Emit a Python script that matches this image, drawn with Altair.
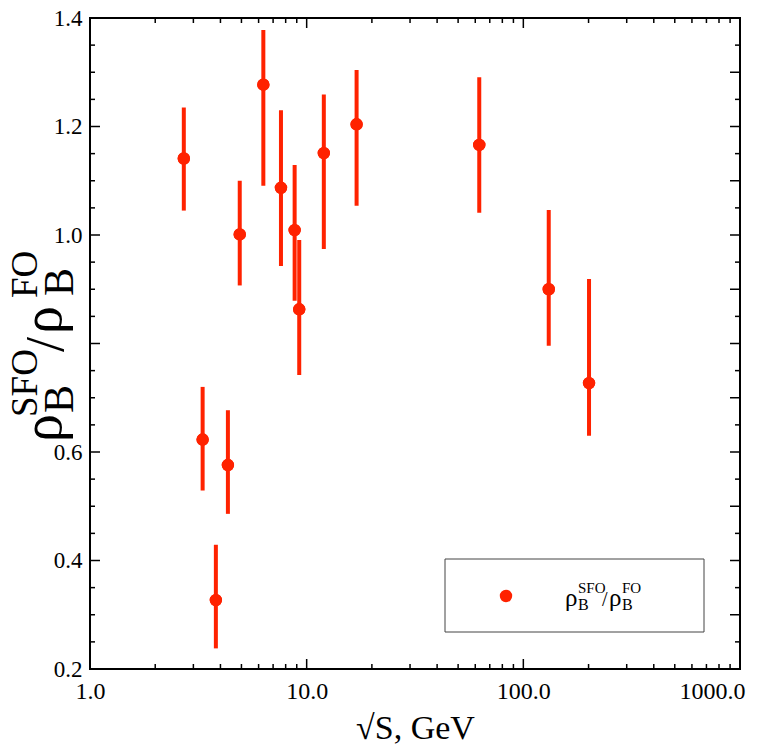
import altair as alt
import pandas as pd

# ---- data ----
sqrt_s = [2.71, 3.31, 3.81, 4.33, 4.91, 6.31, 7.61, 8.80, 9.24, 12.0, 17.0, 62.6, 131.0, 201.0]
ratio = [1.141, 0.623, 0.327, 0.576, 1.001, 1.277, 1.087, 1.009, 0.863, 1.151, 1.204, 1.166, 0.900, 0.727]
err_hi = [1.235, 0.720, 0.429, 0.677, 1.100, 1.378, 1.230, 1.129, 0.991, 1.259, 1.304, 1.291, 1.046, 0.919]
err_lo = [1.045, 0.529, 0.238, 0.486, 0.907, 1.091, 0.943, 0.879, 0.742, 0.974, 1.054, 1.041, 0.796, 0.630]

x_label_vals = [1, 10, 100, 1000]
x_minor_vals = [2, 3, 4, 5, 6, 7, 8, 9, 20, 30, 40, 50, 60, 70, 80, 90,
                200, 300, 400, 500, 600, 700, 800, 900]
y_label_vals = [0.2, 0.4, 0.6, 1.0, 1.2, 1.4]
y_major_left = [0.2, 0.4, 0.6, 0.8, 1.0, 1.2, 1.4]
y_minor_left = [0.25, 0.3, 0.35, 0.45, 0.5, 0.55, 0.65, 0.7, 0.75, 0.85, 0.9, 0.95,
                1.05, 1.1, 1.15, 1.25, 1.3, 1.35]
y_major_right = [0.3, 0.4, 0.5, 0.6, 0.7, 0.8, 0.9, 1.0, 1.1, 1.2, 1.3]
y_minor_right = [0.25, 0.35, 0.45, 0.55, 0.65, 0.75, 0.85, 0.95, 1.05, 1.15, 1.25, 1.35]

W, H = 650, 651
RED = "#ff2200"
FONT = "Liberation Serif"

df = pd.DataFrame({"s": sqrt_s, "r": ratio, "hi": err_hi, "lo": err_lo})

xs = alt.Scale(type="log", domain=[1, 1000], nice=False)
ys = alt.Scale(domain=[0.2, 1.4], nice=False, zero=False)

x_axis = alt.Axis(
    values=x_label_vals, format=".1f", ticks=False, domain=False, grid=False,
    labelFont=FONT, labelFontSize=24, labelColor="black", labelPadding=10,
    labelFlush=False, labelOverlap=False,
    labelOffset={"condition": {"test": "datum.value == 1000", "value": -28}, "value": 0},
    title="√S, GeV", titleFont=FONT, titleFontSize=34, titleFontWeight="normal",
    titleColor="black", titlePadding=8)
y_axis = alt.Axis(
    values=y_label_vals, format=".1f", ticks=False, domain=False, grid=False,
    labelFont=FONT, labelFontSize=23, labelColor="black", labelPadding=8,
    labelFlush=False, labelOverlap=False, title="")

points = alt.Chart(df).mark_circle(color=RED, size=154, opacity=1).encode(
    x=alt.X("s:Q", scale=xs, axis=x_axis),
    y=alt.Y("r:Q", scale=ys, axis=y_axis),
)

errbars = alt.Chart(df).mark_rule(color=RED, strokeWidth=4).encode(
    x=alt.X("s:Q", scale=xs, axis=x_axis),
    y=alt.Y("lo:Q", scale=ys, axis=y_axis),
    y2="hi:Q",
)


def xticks(vals, length, top):
    d = pd.DataFrame({"s": vals})
    if top:
        y0, y1 = 0, length
    else:
        y0, y1 = H, H - length
    return alt.Chart(d).mark_rule(color="black", strokeWidth=1.5).encode(
        x=alt.X("s:Q", scale=xs, axis=x_axis),
        y=alt.value(y0), y2=alt.value(y1))


def yticks(vals, length, right):
    d = pd.DataFrame({"r": vals})
    if right:
        x0, x1 = W, W - length
    else:
        x0, x1 = 0, length
    return alt.Chart(d).mark_rule(color="black", strokeWidth=1.5).encode(
        y=alt.Y("r:Q", scale=ys, axis=y_axis),
        x=alt.value(x0), x2=alt.value(x1))


def label(txt, px, py, size, angle=0):
    d = pd.DataFrame({"t": [txt]})
    kw = dict(align="left", baseline="alphabetic", font=FONT, fontSize=size, color="black")
    if angle:
        kw["angle"] = angle
    return alt.Chart(d).mark_text(**kw).encode(
        x=alt.value(px), y=alt.value(py), text="t:N")


# rotated y-axis title  rho_B^SFO / rho_B^FO  (page coords minus plot origin 90,18)
ytitle = [
    label("ρ", -29, 424, 56, 270),
    label("B", -17, 395, 42, 270),
    label("SFO", -53, 399, 37, 270),
    label("/", -27, 334, 54, 270),
    label("ρ", -29, 316, 56, 270),
    label("B", -17, 278, 42, 270),
    label("FO", -53, 280, 37, 270),
]

legend_box = alt.Chart(pd.DataFrame({"a": [0]})).mark_rect(
    fill="white", stroke="#444444", strokeWidth=1).encode(
    x=alt.value(355), x2=alt.value(614), y=alt.value(541), y2=alt.value(614))
legend_dot = alt.Chart(pd.DataFrame({"a": [0]})).mark_circle(
    color=RED, size=154, opacity=1).encode(x=alt.value(416), y=alt.value(578))
legend_text = [
    label("ρ", 475, 588, 25),
    label("B", 488, 592, 16),
    label("SFO", 488, 575, 15),
    label("/", 512, 588, 20),
    label("ρ", 519, 588, 25),
    label("B", 532, 592, 16),
    label("FO", 532, 575, 15),
]

layers = [
    points,
    xticks(x_label_vals, 10, False), xticks(x_minor_vals, 5, False),
    xticks(x_label_vals, 10, True), xticks(x_minor_vals, 5, True),
    yticks(y_major_left, 10, False), yticks(y_minor_left, 5, False),
    yticks(y_major_right, 10, True), yticks(y_minor_right, 5, True),
    errbars, points,
    legend_box, legend_dot,
] + legend_text + ytitle

chart = alt.layer(*layers).properties(
    width=W, height=H,
    autosize=alt.AutoSizeParams(type="none"),
    padding={"left": 82, "top": 10, "right": 12, "bottom": 76},
    background="white",
).configure_view(stroke="black", strokeWidth=2)

chart.save("out.html", embed_options={"renderer": "svg", "actions": False})
